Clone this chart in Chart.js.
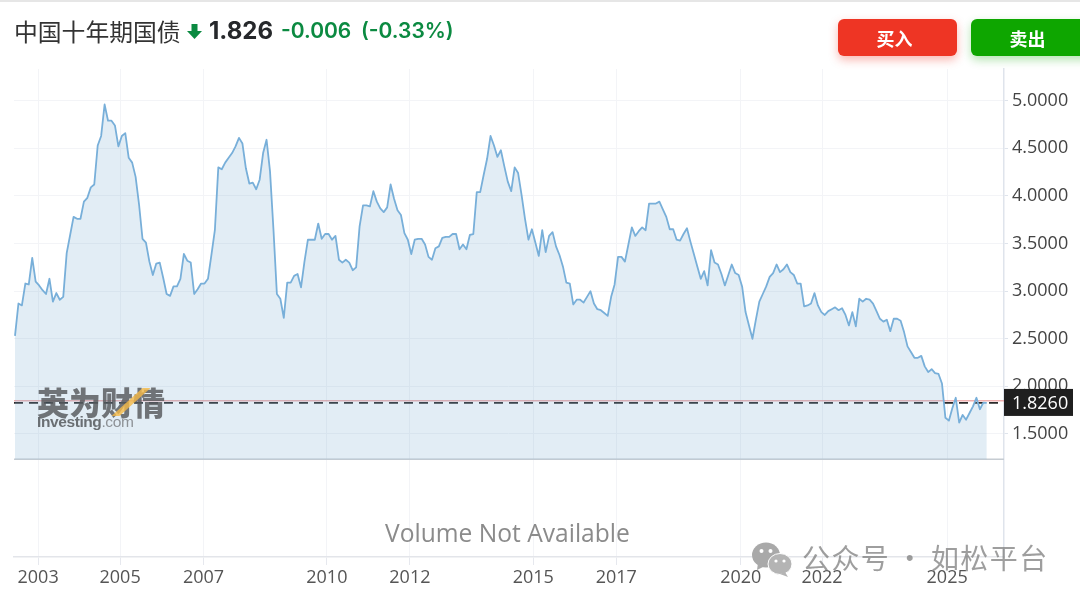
<!DOCTYPE html>
<html>
<head>
<meta charset="utf-8">
<title>中国十年期国债</title>
<script src="https://cdn.jsdelivr.net/npm/chart.js"></script>
<style>
html,body{margin:0;padding:0;background:#fff;overflow:hidden}
#wrap{position:relative;width:1080px;height:602px;overflow:hidden;font-family:"Noto Sans CJK SC","Noto Sans",sans-serif}
#wrap div,#wrap svg{position:absolute;white-space:nowrap}
canvas{position:absolute;left:0;top:0}
#strip{left:0;top:0;width:1080px;height:2px;background:#e6e6e6}
#name{left:14px;top:13px;font-size:23.8px;line-height:36px;color:#333}
#price{left:209px;top:13px;font:700 24px/36px Inter;color:#26282b}
#chg{left:281px;top:13px;font:600 21px/36px Inter;color:#0b8a41}
#pct{left:361px;top:13px;font:600 21px/36px Inter;color:#0b8a41}
.btn{top:19px;height:37px;border-radius:6px;color:#fff;font-size:18px;font-weight:700;line-height:38px;text-align:center}
#buy{left:838px;width:119px;background:#ee3524;box-shadow:0 4px 10px rgba(238,53,36,.35)}
#buy span{position:relative;left:-3px}
#sell{left:971px;width:125px;background:#0ea600;box-shadow:0 4px 10px rgba(14,166,0,.3)}
#sell span{position:relative;left:-6px}
#vol{left:385px;top:515px;font:24.6px/36px "Open Sans";color:#8b8b8b}
#wm1{left:37px;top:381px;font-size:32px;font-weight:900;line-height:40px;color:rgba(85,88,92,.82)}
#wmx{left:127px;top:388px;width:8px;height:28px;background:rgba(245,185,70,.8);transform:skewX(-48deg)}
#wm2{left:37px;top:412px;font:700 15.5px/20px "Liberation Sans";letter-spacing:-.4px;color:rgba(85,88,92,.85)}
#wm2 span{font-weight:400;color:rgba(120,122,126,.8)}
#gz{left:802px;top:538px;font-size:28px;line-height:38px;letter-spacing:1.4px;word-spacing:-2px;color:rgba(120,120,120,.72)}
</style>
</head>
<body>
<div id="wrap">
  <canvas id="bondChart" width="1080" height="602"></canvas>
  <div id="strip"></div>
  <div id="name">中国十年期国债</div>
  <svg style="left:187px;top:24px" width="15" height="15" viewBox="0 0 15 15"><path d="M4.5 0h6v7h4.5L7.5 15 0 7h4.5z" fill="#0b8a41"/></svg>
  <div id="price">1.826</div>
  <div id="chg">-0.006</div>
  <div id="pct">(-0.33%)</div>
  <div id="buy" class="btn"><span>买入</span></div>
  <div id="sell" class="btn"><span>卖出</span></div>
  <div id="vol">Volume Not Available</div>
  <div id="wm1">英为财情</div>
  <div id="wmx"></div>
  <div id="wm2">Investing<span>.com</span></div>
  <svg style="left:752px;top:541px" width="41" height="37" viewBox="0 0 41 37">
    <ellipse cx="14" cy="14" rx="14" ry="12.5" fill="#a9a9a9"/><path d="M6 22l-1 7 8-4z" fill="#a9a9a9"/>
    <ellipse cx="28" cy="23" rx="12" ry="10.5" fill="#b4b4b4" stroke="#fff" stroke-width="1"/><path d="M33 31l3 5-8-3z" fill="#b4b4b4"/>
    <circle cx="9.5" cy="10" r="2" fill="#fff"/><circle cx="18.5" cy="10" r="2" fill="#fff"/>
    <circle cx="24" cy="20" r="1.6" fill="#fff"/><circle cx="32" cy="20" r="1.6" fill="#fff"/>
  </svg>
  <div id="gz">公众号 · 如松平台</div>
</div>
<script>
// 月度收益率 (每行 10 个点)
const yields = [
  2.53, 2.87, 2.85, 3.08, 3.07, 3.35, 3.10, 3.06, 3.01, 2.97,
  3.13, 2.89, 2.98, 2.91, 2.94, 3.40, 3.59, 3.78, 3.76, 3.76,
  3.94, 3.98, 4.09, 4.12, 4.53, 4.63, 4.96, 4.79, 4.79, 4.74,
  4.52, 4.63, 4.66, 4.40, 4.35, 4.20, 3.91, 3.55, 3.51, 3.31,
  3.17, 3.29, 3.30, 3.14, 2.97, 2.95, 3.05, 3.05, 3.13, 3.39,
  3.32, 3.30, 2.97, 3.02, 3.08, 3.08, 3.13, 3.38, 3.64, 4.30,
  4.28, 4.35, 4.40, 4.45, 4.52, 4.61, 4.55, 4.29, 4.13, 4.14,
  4.07, 4.17, 4.45, 4.59, 4.26, 3.65, 2.97, 2.92, 2.72, 3.09,
  3.09, 3.16, 3.18, 3.04, 3.31, 3.54, 3.54, 3.54, 3.71, 3.55,
  3.60, 3.60, 3.54, 3.58, 3.33, 3.30, 3.33, 3.30, 3.22, 3.25,
  3.68, 3.90, 3.90, 3.89, 4.05, 3.94, 3.87, 3.83, 3.88, 4.12,
  3.97, 3.85, 3.80, 3.61, 3.54, 3.39, 3.54, 3.55, 3.55, 3.49,
  3.36, 3.33, 3.45, 3.47, 3.56, 3.57, 3.57, 3.60, 3.60, 3.44,
  3.49, 3.44, 3.59, 3.60, 4.04, 4.04, 4.22, 4.39, 4.63, 4.53,
  4.41, 4.48, 4.31, 4.15, 4.05, 4.30, 4.24, 4.01, 3.76, 3.54,
  3.65, 3.51, 3.37, 3.64, 3.41, 3.58, 3.62, 3.47, 3.38, 3.26,
  3.09, 3.08, 2.86, 2.91, 2.91, 2.88, 2.94, 3.00, 2.87, 2.81,
  2.80, 2.77, 2.74, 2.94, 3.07, 3.36, 3.36, 3.31, 3.49, 3.67,
  3.58, 3.63, 3.67, 3.64, 3.92, 3.92, 3.92, 3.94, 3.86, 3.78,
  3.65, 3.65, 3.54, 3.53, 3.60, 3.66, 3.52, 3.39, 3.26, 3.13,
  3.21, 3.06, 3.43, 3.30, 3.28, 3.18, 3.06, 3.17, 3.28, 3.19,
  3.17, 3.05, 2.78, 2.64, 2.50, 2.70, 2.89, 2.97, 3.05, 3.15,
  3.19, 3.28, 3.20, 3.23, 3.28, 3.20, 3.17, 3.08, 3.08, 2.84,
  2.85, 2.87, 2.98, 2.85, 2.78, 2.75, 2.79, 2.81, 2.83, 2.80,
  2.82, 2.75, 2.64, 2.78, 2.63, 2.92, 2.89, 2.92, 2.91, 2.87,
  2.79, 2.71, 2.68, 2.70, 2.58, 2.71, 2.71, 2.69, 2.57, 2.42,
  2.36, 2.30, 2.30, 2.32, 2.21, 2.15, 2.18, 2.14, 2.13, 2.03,
  1.67, 1.64, 1.77, 1.88, 1.62, 1.70, 1.65, 1.72, 1.79, 1.88,
  1.76, 1.83, 1.826
];
const yearLabels = ['2003', '2005', '2007', '2010', '2012', '2015', '2017', '2020', '2022', '2025'];
const yearIndex = [6.7, 30.5, 54.7, 90.5, 114.6, 150.4, 174.5, 210.6, 234.2, 270.5];
const yTicks = [1.5, 2, 2.5, 3, 3.5, 4, 4.5, 5];
const lastPrice = 1.826;
const lastQuote = 1.848;
const chartFloor = 1.234;

const xMin = -0.29, xMax = 287;

// 右侧价格标签
const priceTag = {
  id: 'priceTag',
  afterDraw(chart) {
    const ctx = chart.ctx, y = chart.scales.y.getPixelForValue(lastPrice);
    ctx.save();
    ctx.fillStyle = '#1f1f1f';
    ctx.fillRect(chart.chartArea.right, y - 14, 69, 27);
    ctx.fillStyle = '#fff';
    ctx.font = '18px "Open Sans"';
    ctx.textBaseline = 'middle';
    ctx.fillText(lastPrice.toFixed(4), chart.chartArea.right + 8, y + 1);
    ctx.restore();
  }
};

const flat = v => [{ x: xMin, y: v }, { x: xMax, y: v }];

new Chart(document.getElementById('bondChart').getContext('2d'), {
  type: 'line',
  data: {
    datasets: [
      {
        data: yields.map((v, i) => ({ x: i, y: v })),
        borderColor: '#78afd9',
        borderWidth: 1.8,
        borderJoinStyle: 'round',
        backgroundColor: 'rgba(120,170,210,.21)',
        fill: { value: chartFloor },
        pointRadius: 0,
        tension: 0
      },
      { data: flat(chartFloor), borderColor: '#c6ccd2', borderWidth: 1.5, pointRadius: 0 },
      { data: flat(lastPrice), borderColor: '#2a2a2a', borderWidth: 1.8, borderDash: [9, 6], pointRadius: 0 },
      { data: flat(lastQuote), borderColor: '#e88a8a', borderWidth: 1, pointRadius: 0 }
    ]
  },
  options: {
    responsive: false,
    animation: false,
    layout: { padding: { left: 14, top: 69 } },
    plugins: { legend: { display: false }, tooltip: { enabled: false } },
    scales: {
      x: {
        type: 'linear',
        min: xMin,
        max: xMax,
        afterBuildTicks: s => { s.ticks = yearIndex.map(v => ({ value: v })); },
        afterFit: s => { s.height = 45; },
        ticks: {
          autoSkip: false,
          maxRotation: 0,
          padding: 2,
          color: '#555',
          font: { family: 'Open Sans', size: 18 },
          callback: v => yearLabels[yearIndex.indexOf(v)]
        },
        grid: { color: '#f3f4f7', tickColor: '#e6e8ee', tickLength: 8 },
        border: { color: '#e3e5ea', width: 1.5 }
      },
      y: {
        position: 'right',
        min: 0.208,
        max: 5.333,
        afterBuildTicks: s => { s.ticks = yTicks.map(v => ({ value: v })); },
        afterFit: s => { s.width = 76; },
        ticks: {
          padding: 4,
          color: '#444',
          font: { family: 'Open Sans', size: 18 },
          callback: v => v.toFixed(4)
        },
        grid: { color: '#f3f4f7', tickColor: '#dfe4ec', tickLength: 4 },
        border: { color: '#dfe4ec', width: 1.5 }
      }
    }
  },
  plugins: [priceTag]
});
</script>
</body>
</html>
